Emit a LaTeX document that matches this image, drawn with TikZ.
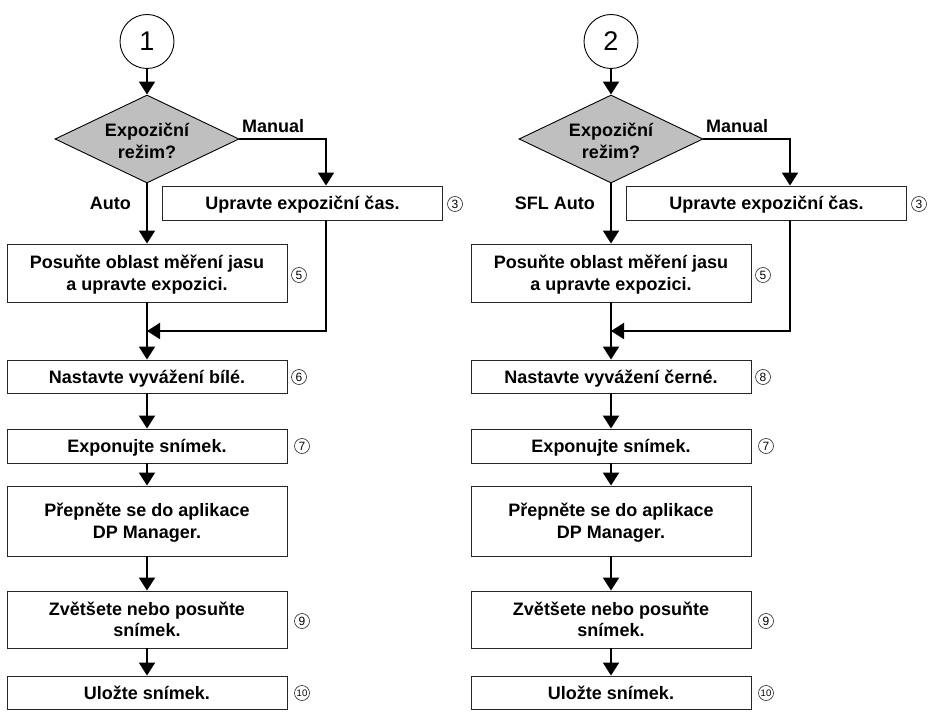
\documentclass[tikz,border=0pt]{standalone}
\usepackage{fontspec}
\setmainfont{Liberation Sans}
\usetikzlibrary{arrows.meta,shapes.geometric}
\tikzset{
 stepbox/.style={draw=black!85, line width=0.9pt, fill=white, inner sep=0pt, minimum width=280pt, align=center, text depth=0pt, font=\fontsize{18}{21.5}\selectfont\bfseries},
 conn/.style={line width=2pt, -{Triangle[width=16pt,length=13pt]}},
 lbl/.style={font=\fontsize{18}{21.5}\selectfont\bfseries, inner sep=0pt},
 cnum/.style={circle, draw=black!85, line width=0.6pt, minimum size=15pt, inner sep=0pt, font=\fontsize{12}{12}\selectfont},
 cnumw/.style={cnum, font=\fontsize{9.5}{9.5}\selectfont},
 startc/.style={circle, draw, line width=0.9pt, minimum size=54pt, inner sep=0pt, font=\fontsize{27}{27}\selectfont},
 decision/.style={diamond, draw, line width=0.9pt, fill=black!25, minimum width=184pt, minimum height=88pt, inner sep=0pt},
}
\newcommand{\flowcol}[6]{%
\begin{scope}[xshift=#1pt]
\node[startc] (c#2) at (147,41.5) {#3};
\node[decision] (d#2) at (147,139) {};
\node[lbl, align=center] (dt#2) at (147,141) {Expoziční\\režim?};
\node[stepbox, minimum height=34pt] (u#2) at (302.5,203) {Upravte expoziční čas.};
\node[stepbox, minimum height=58pt] (p#2) at (147,273) {Posuňte oblast měření jasu\\a upravte expozici.};
\node[stepbox, minimum height=33pt] (n#2) at (147,376.5) {#5};
\node[stepbox, minimum height=34pt] (e#2) at (147,446) {Exponujte snímek.};
\node[stepbox, minimum height=70pt] (r#2) at (147,521) {Přepněte se do aplikace\\DP Manager.};
\node[stepbox, minimum height=57pt] (z#2) at (147,619.5) {Zvětšete nebo posuňte\\snímek.};
\node[stepbox, minimum height=33pt] (s#2) at (147,692.5) {Uložte snímek.};
\node[lbl, anchor=west] (man#2) at (242,126) {Manual};
\node[lbl, anchor=east] (auto#2) at (131,203) {#4};
\node[cnum] (k3#2) at (455,204) {3};
\node[cnum] (k5#2) at (299,275) {5};
\node[cnum] (k6#2) at (299,377) {#6};
\node[cnum] (k7#2) at (302,446) {7};
\node[cnum] (k9#2) at (302,621) {9};
\node[cnumw] (k10#2) at (302,693) {10};
\coordinate (j#2) at (147,331);
\draw[conn] (c#2) -- (d#2);
\draw[conn] (d#2) -- (p#2);
\draw[conn] (d#2.east) -| ([xshift=23.5pt]u#2.north);
\draw[conn] ([xshift=23.5pt]u#2.south) |- (j#2);
\draw[conn] (p#2) -- (n#2);
\draw[conn] (n#2) -- (e#2);
\draw[conn] (e#2) -- (r#2);
\draw[conn] (r#2) -- (z#2);
\draw[conn] (z#2) -- (s#2);
\end{scope}}
\begin{document}
\begin{tikzpicture}[x=1pt,y=-1pt]
\useasboundingbox (0,0) rectangle (937,719);
\flowcol{0}{a}{1}{Auto}{Nastavte vyvážení bílé.}{6}
\flowcol{464}{b}{2}{SFL Auto}{Nastavte vyvážení černé.}{8}
\end{tikzpicture}
\end{document}
